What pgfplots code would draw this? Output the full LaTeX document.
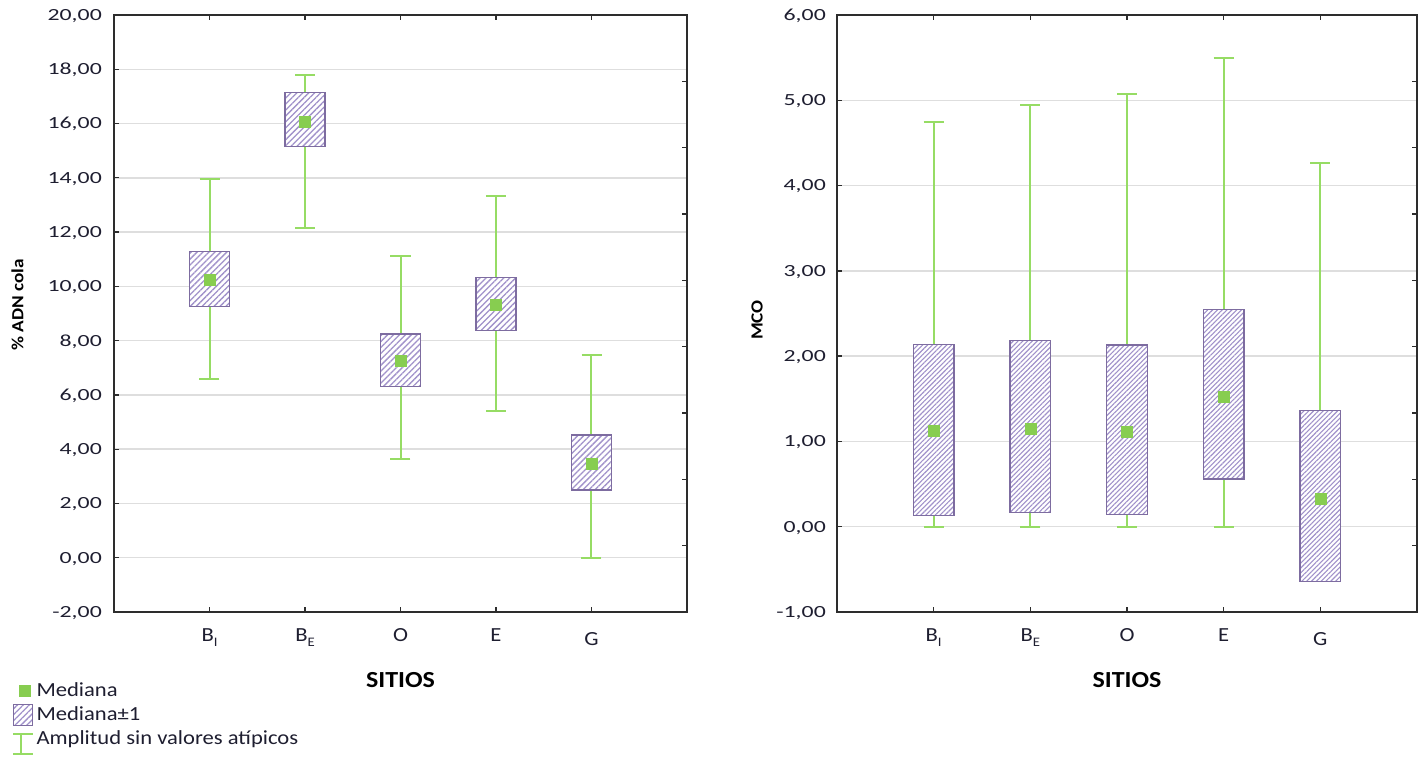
\documentclass[border=0pt]{standalone}
\usepackage{fontspec}
\setmainfont{Carlito}[FakeStretch=1.13]
\newfontfamily\tickfont{Carlito}[FakeStretch=1.4]
\usepackage{pgfplots}
\pgfplotsset{compat=1.18}
\usepgfplotslibrary{statistics}
\usetikzlibrary{patterns.meta}
\definecolor{wgreen}{RGB}{150,220,100}
\definecolor{mgreen}{RGB}{135,205,80}
\definecolor{bpurple}{RGB}{125,108,160}
\definecolor{hatchc}{RGB}{160,145,202}
\definecolor{axc}{RGB}{45,45,45}
\definecolor{gridc}{RGB}{222,222,222}
\definecolor{txt}{RGB}{30,30,48}
\newcommand\sub[1]{\raisebox{-5pt}{\fontsize{13}{13}\selectfont #1}}
\pgfplotsset{
  panel/.style={
    scale only axis, height=597pt,
    xmin=0, xmax=6, xtick={1,2,3,4,5},
    xticklabels={B\sub{I}, B\sub{E}, O, E, \raisebox{-4pt}{G}},
    ytick pos=left,
    ymajorgrids, grid style={gridc, line width=1.4pt},
    axis line style={axc, line width=1.6pt},
    major tick length=5pt,
    tick style={axc, line width=1.3pt},
    xticklabel style={font=\fontsize{20}{20}\selectfont, anchor=north, inner sep=0pt, yshift=-16pt, text height=13pt, text depth=0pt, text=txt},
    yticklabel style={font=\tickfont\fontsize{17}{17}\selectfont, anchor=base east, inner sep=0pt, yshift=-5.4pt, text=txt},
    xlabel={SITIOS},
    xlabel style={font=\bfseries\fontsize{23}{23}\selectfont, at={(axis description cs:0.5,0)}, anchor=north, inner sep=0pt, yshift=-60pt, text=black},
    ylabel style={font=\bfseries\fontsize{17}{17}\selectfont, anchor=center, inner sep=0pt, text=black},
    boxplot/draw direction=y,
    boxplot/box extend=0.42,
    boxplot/every whisker/.style={draw=none},
    boxplot/every median/.style={draw=none},
  },
  boxL/.style={boxplot/every box/.style={draw=bpurple, line width=1.4pt, fill=white, postaction={pattern={Lines[angle=45,distance=4.2pt,line width=1.3pt]}, pattern color=hatchc}}},
  boxR/.style={boxplot/every box/.style={draw=bpurple, line width=1.4pt, fill=white, postaction={pattern={Lines[angle=45,distance=3.4pt,line width=1.1pt]}, pattern color=hatchc}}},
  whisk/.style={forget plot, only marks, mark=none, color=wgreen, line width=2pt, error bars/.cd, y dir=both, y explicit, error mark=|, error bar style={color=wgreen, line width=2pt}, error mark options={color=wgreen, mark size=10pt, line width=2pt}},
  med/.style={forget plot, only marks, mark=square*, mark size=5.5pt, color=mgreen},
  rticks/.style={scale only axis, height=597pt, xmin=0, xmax=1, ymin=0, ymax=9, xtick=\empty, ytick={0,...,9}, yticklabels={}, ytick pos=right, axis line style={draw=none}, major tick length=5pt, tick style={axc, line width=1.3pt}},
}
\begin{document}
\begin{tikzpicture}
\path (0pt,0pt) rectangle (1427pt,758pt);
% ---------------- left panel
\begin{axis}[panel, boxL, at={(114pt,146pt)}, anchor=south west, width=573pt,
  ymin=-2, ymax=20, ytick={-2,0,...,20},
  yticklabels={{-2,00},{0,00},{2,00},{4,00},{6,00},{8,00},{10,00},{12,00},{14,00},{16,00},{18,00},{20,00}},
  yticklabel style={xshift=-12pt},
  ylabel={\% ADN cola}, ylabel style={at={(axis description cs:0,0.514)}, yshift=96.5pt},
  legend style={at={(axis description cs:-0.178,-0.1156)}, anchor=north west, draw=none, fill=none, inner sep=0pt, outer sep=0pt, row sep=3pt, column sep=1.5pt, font=\fontsize{20}{20}\selectfont, nodes={inner sep=1pt, text height=14pt, text depth=4pt, text=txt}, cells={anchor=west}},
]
\addplot[whisk] coordinates {
 (1,10.23) += (0,3.73) -= (0,3.64)
 (2,16.07) += (0,1.73) -= (0,3.91)
 (3,7.25) += (0,3.87) -= (0,3.62)
 (4,9.31) += (0,4.02) -= (0,3.90)
 (5,3.45) += (0,4.03) -= (0,3.45)
};
\addplot[forget plot, boxplot prepared={draw position=1, lower whisker=9.25, lower quartile=9.25, median=10.23, upper quartile=11.28, upper whisker=11.28}] coordinates {};
\addplot[forget plot, boxplot prepared={draw position=2, lower whisker=15.15, lower quartile=15.15, median=16.07, upper quartile=17.14, upper whisker=17.14}] coordinates {};
\addplot[forget plot, boxplot prepared={draw position=3, lower whisker=6.30, lower quartile=6.30, median=7.25, upper quartile=8.24, upper whisker=8.24}] coordinates {};
\addplot[forget plot, boxplot prepared={draw position=4, lower whisker=8.37, lower quartile=8.37, median=9.31, upper quartile=10.32, upper whisker=10.32}] coordinates {};
\addplot[forget plot, boxplot prepared={draw position=5, lower whisker=2.50, lower quartile=2.50, median=3.45, upper quartile=4.52, upper whisker=4.52}] coordinates {};
\addplot[med] coordinates {(1,10.23) (2,16.07) (3,7.25) (4,9.31) (5,3.45)};
\addlegendimage{legend image code/.code={\path[draw=none, fill=none] (0pt,-10pt) rectangle (20pt,10pt); \draw[mgreen, only marks, mark=square*, mark size=5.5pt] plot coordinates {(12pt,0pt)};}}
\addlegendentry{Mediana}
\addlegendimage{legend image code/.code={\draw[bpurple, line width=1.4pt, fill=white, postaction={pattern={Lines[angle=45,distance=4.2pt,line width=1.3pt]}, pattern color=hatchc}] (0.7pt,-10.3pt) rectangle (19.3pt,10.3pt);}}
\addlegendentry{Mediana±1}
\addlegendimage{legend image code/.code={\path[draw=none, fill=none] (0pt,-10pt) rectangle (20pt,10pt); \draw[wgreen, line width=2pt] (8pt,-14.5pt) -- (8pt,5.5pt) (0pt,-14.5pt) -- (20pt,-14.5pt) (0pt,5.5pt) -- (20pt,5.5pt);}}
\addlegendentry{Amplitud sin valores atípicos}
\end{axis}
\begin{axis}[rticks, at={(114pt,146pt)}, anchor=south west, width=573pt]
\end{axis}
% ---------------- right panel
\begin{axis}[panel, boxR, at={(837pt,146pt)}, anchor=south west, width=580pt,
  ymin=-1, ymax=6, ytick={-1,0,...,6},
  yticklabels={{-1,00},{0,00},{1,00},{2,00},{3,00},{4,00},{5,00},{6,00}},
  yticklabel style={xshift=-11pt},
  ylabel={MCO}, ylabel style={at={(axis description cs:0,0.489)}, yshift=80pt},
]
\addplot[whisk] coordinates {
 (1,1.13) += (0,3.61) -= (0,1.13)
 (2,1.15) += (0,3.80) -= (0,1.15)
 (3,1.11) += (0,3.96) -= (0,1.11)
 (4,1.53) += (0,3.97) -= (0,1.53)
 (5,0.33) += (0,3.93) -= (0,0.33)
};
\addplot[forget plot, boxplot prepared={draw position=1, lower whisker=0.13, lower quartile=0.13, median=1.13, upper quartile=2.14, upper whisker=2.14}] coordinates {};
\addplot[forget plot, boxplot prepared={draw position=2, lower whisker=0.17, lower quartile=0.17, median=1.15, upper quartile=2.18, upper whisker=2.18}] coordinates {};
\addplot[forget plot, boxplot prepared={draw position=3, lower whisker=0.14, lower quartile=0.14, median=1.11, upper quartile=2.13, upper whisker=2.13}] coordinates {};
\addplot[forget plot, boxplot prepared={draw position=4, lower whisker=0.56, lower quartile=0.56, median=1.53, upper quartile=2.55, upper whisker=2.55}] coordinates {};
\addplot[forget plot, boxplot prepared={draw position=5, lower whisker=-0.64, lower quartile=-0.64, median=0.33, upper quartile=1.36, upper whisker=1.36}] coordinates {};
\addplot[med] coordinates {(1,1.13) (2,1.15) (3,1.11) (4,1.53) (5,0.33)};
\end{axis}
\begin{axis}[rticks, at={(837pt,146pt)}, anchor=south west, width=580pt]
\end{axis}
\end{tikzpicture}
\end{document}
